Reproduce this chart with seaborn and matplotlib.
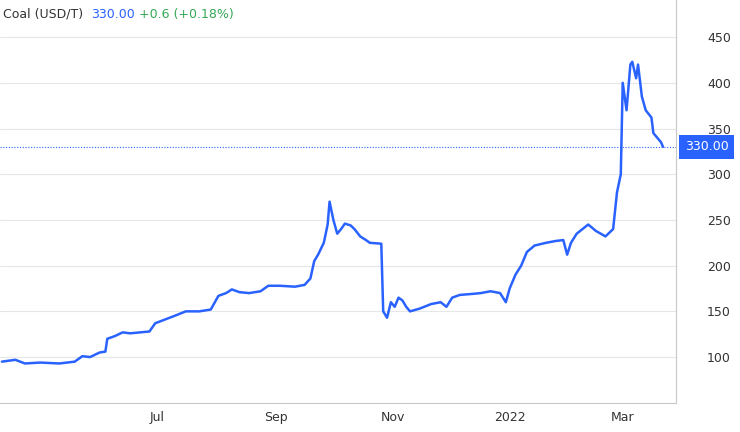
import matplotlib
matplotlib.use("Agg")
import matplotlib.pyplot as plt
import matplotlib.dates as mdates
import seaborn as sns
import pandas as pd
import numpy as np

days = [-81,-74,-69,-61,-51,-43,-39,-35,-30,-27,-26,-22,-18,-14,-9,-4,-1,4,9,15,22,28,32,36,39,43,48,54,58,64,72,77,80,82,84,87,89,90,92,94,96,98,101,103,106,109,111,117,118,120,122,124,126,128,130,132,137,143,148,151,154,158,164,169,174,179,182,184,187,190,193,197,203,208,212,214,216,219,222,225,229,234,238,240,242,243,245,247,248,250,251,253,255,258,259,261,263,264]
prices = [95,97,93,94,93,95,101,100,105,106,120,123,127,126,127,128,137,141,145,150,150,152,167,170,174,171,170,172,178,178,177,179,186,205,212,225,245,270,250,235,240,246,244,240,232,228,225,224,150,143,160,155,165,162,155,150,153,158,160,155,165,168,169,170,172,170,160,175,190,200,215,222,225,227,228,212,225,235,240,245,238,232,240,280,300,400,370,420,423,405,420,385,370,362,345,340,335,330]
n = min(len(days), len(prices))
dates = pd.Timestamp("2021-07-01") + pd.to_timedelta(days[:n], unit="D")
df = pd.DataFrame({"date": dates, "price": prices[:n]})
last = 330.00
yticks = [100, 150, 200, 250, 300, 350, 400, 450]
xtick_dates = ["2021-07-01", "2021-09-01", "2021-11-01", "2022-01-01", "2022-03-01"]
xtick_labels = ["Jul", "Sep", "Nov", "2022", "Mar"]

sns.set_style("white")
plt.rcParams['font.family'] = ['DejaVu Sans']
fig = plt.figure(figsize=(7.4, 4.32), dpi=100)
ax = fig.add_axes([0.0, 0.067, 0.914, 0.933])
sns.lineplot(data=df, x="date", y="price", ax=ax, color="#2962ff", linewidth=1.8)
ax.set_ylim(49.7, 490.6)
ax.set_xlim(pd.Timestamp("2021-07-01") - pd.Timedelta(days=82), pd.Timestamp("2021-07-01") + pd.Timedelta(days=271))
ax.yaxis.tick_right()
ax.set_yticks(yticks)
ax.set_xticks(pd.to_datetime(xtick_dates))
ax.set_xticklabels(xtick_labels)
ax.tick_params(axis="both", colors="#333333", labelsize=9, length=0)
ax.tick_params(axis="y", pad=22)
ax.tick_params(axis="x", pad=6)
ax.grid(axis="y", color="#e6e6e6", linewidth=0.8)
for s in ["top", "left"]:
    ax.spines[s].set_visible(False)
for s in ["right", "bottom"]:
    ax.spines[s].set_color("#c8c8c8")
ax.set_xlabel("")
ax.set_ylabel("")
ax.axhline(last, color="#2962ff", linestyle=(0, (1, 1.5)), linewidth=0.8)
ax.annotate(f"{last:.2f}", xy=(1.0, last), xycoords=("axes fraction", "data"),
            xytext=(6, 0), textcoords="offset points", va="center", ha="left",
            color="white", fontsize=9,
            bbox=dict(boxstyle="square,pad=0.45", fc="#2962ff", ec="none"))
ax.text(0.005, 0.965, "Coal (USD/T) ", transform=ax.transAxes, fontsize=9, color="#333333", va="center")
ax.text(0.135, 0.965, f"{last:.2f}", transform=ax.transAxes, fontsize=9, color="#2962ff", va="center")
ax.text(0.205, 0.965, "+0.6 (+0.18%)", transform=ax.transAxes, fontsize=9, color="#34a853", va="center")
fig.savefig("out.png", dpi=100)
